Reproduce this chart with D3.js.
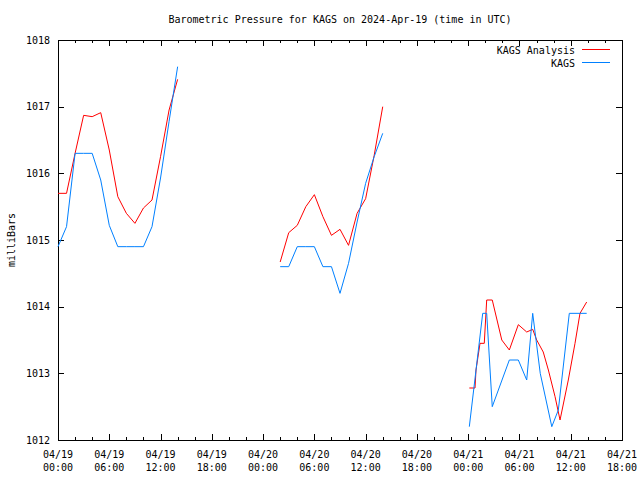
<!DOCTYPE html>
<html><head><meta charset="utf-8">
<script src="https://d3js.org/d3.v7.min.js"></script>
<style>body{margin:0;background:#fff}svg{display:block}text{font-family:"DejaVu Sans Mono",monospace;font-size:10px;fill:#000}</style>
</head><body>
<script>
const titleText = "Barometric Pressure for KAGS on 2024-Apr-19 (time in UTC)";
const yLabel = "milliBars";
const seriesNames = ["KAGS Analysis", "KAGS"];
const seriesColors = ["#ff0000", "#0080ff"];
const yTicks = [1012, 1013, 1014, 1015, 1016, 1017, 1018];
const xDomain = ["2024-04-19 00:00", "2024-04-21 18:00"];

// KAGS Analysis (red), segments
const analysisSeg1Times = ["2024-04-19 00:00","2024-04-19 01:00","2024-04-19 02:00","2024-04-19 03:00","2024-04-19 04:00","2024-04-19 05:00","2024-04-19 06:00","2024-04-19 07:00","2024-04-19 08:00","2024-04-19 09:00","2024-04-19 10:00","2024-04-19 11:00","2024-04-19 12:00","2024-04-19 13:00","2024-04-19 14:00"];
const analysisSeg1Values = [1015.7,1015.7,1016.3,1016.87,1016.85,1016.91,1016.35,1015.65,1015.4,1015.25,1015.48,1015.6,1016.25,1016.95,1017.41];
const analysisSeg2Times = ["2024-04-20 02:00","2024-04-20 03:00","2024-04-20 04:00","2024-04-20 05:00","2024-04-20 06:00","2024-04-20 07:00","2024-04-20 08:00","2024-04-20 09:00","2024-04-20 10:00","2024-04-20 11:00","2024-04-20 12:00","2024-04-20 13:00","2024-04-20 14:00"];
const analysisSeg2Values = [1014.67,1015.11,1015.22,1015.5,1015.68,1015.35,1015.07,1015.16,1014.92,1015.4,1015.62,1016.27,1017.0];
const analysisSeg3Times = ["2024-04-21 00:08","2024-04-21 00:48","2024-04-21 00:55","2024-04-21 01:23","2024-04-21 01:53","2024-04-21 02:10","2024-04-21 02:49","2024-04-21 03:56","2024-04-21 04:49","2024-04-21 05:52","2024-04-21 06:51","2024-04-21 07:33","2024-04-21 08:01","2024-04-21 08:47","2024-04-21 09:23","2024-04-21 10:10","2024-04-21 10:45","2024-04-21 11:43","2024-04-21 12:30","2024-04-21 13:05","2024-04-21 13:52"];
const analysisSeg3Values = [1012.78,1012.78,1013.05,1013.45,1013.45,1014.1,1014.1,1013.5,1013.35,1013.73,1013.62,1013.66,1013.5,1013.32,1013.05,1012.65,1012.3,1012.9,1013.45,1013.9,1014.07];

// KAGS observations (blue), segments
const obsSeg1Times = analysisSeg1Times;
const obsSeg1Values = [1014.9,1015.2,1016.3,1016.3,1016.3,1015.9,1015.22,1014.9,1014.9,1014.9,1014.9,1015.2,1015.93,1016.78,1017.6];
const obsSeg2Times = analysisSeg2Times;
const obsSeg2Values = [1014.6,1014.6,1014.9,1014.9,1014.9,1014.6,1014.6,1014.2,1014.65,1015.27,1015.85,1016.25,1016.6];
const obsSeg3Times = ["2024-04-21 00:08","2024-04-21 01:42","2024-04-21 02:10","2024-04-21 02:49","2024-04-21 04:49","2024-04-21 05:52","2024-04-21 06:51","2024-04-21 07:33","2024-04-21 08:26","2024-04-21 09:47","2024-04-21 10:33","2024-04-21 11:50","2024-04-21 13:52"];
const obsSeg3Values = [1012.2,1013.9,1013.9,1012.5,1013.2,1013.2,1012.9,1013.9,1013.0,1012.2,1012.45,1013.9,1013.9];

const parse = d3.utcParse("%Y-%m-%d %H:%M");
const W = 640, H = 480;
const L = 58, R = 622, T = 40, B = 440;

const svg = d3.select("body").append("svg").attr("width", W).attr("height", H);

const x = d3.scaleUtc().domain(xDomain.map(parse)).range([L, R]);
const y = d3.scaleLinear().domain([1012, 1018]).range([B, T]);

const g = svg.append("g").attr("shape-rendering", "crispEdges");

const majorTicks = d3.utcHour.every(6).range(x.domain()[0], new Date(+x.domain()[1] + 1));
const minorTicks = d3.utcHour.every(2).range(x.domain()[0], new Date(+x.domain()[1] + 1)).filter(d => d.getUTCHours() % 6 !== 0);

// bottom axis
const xb = d3.axisBottom(x).tickValues(majorTicks).tickSize(-6).tickFormat("");
g.append("g").attr("transform", `translate(0,${B})`).call(xb);
g.append("g").attr("transform", `translate(0,${B})`).call(d3.axisBottom(x).tickValues(minorTicks).tickSize(-3).tickFormat(""));
// top axis
g.append("g").attr("transform", `translate(0,${T})`).call(d3.axisTop(x).tickValues(majorTicks).tickSize(-6).tickFormat(""));
g.append("g").attr("transform", `translate(0,${T})`).call(d3.axisTop(x).tickValues(minorTicks).tickSize(-3).tickFormat(""));
// left / right axes
g.append("g").attr("transform", `translate(${L},0)`).call(d3.axisLeft(y).tickValues(yTicks).tickSize(-6).tickFormat(""));
g.append("g").attr("transform", `translate(${R},0)`).call(d3.axisRight(y).tickValues(yTicks).tickSize(-6).tickFormat(""));
g.selectAll(".domain").remove();
g.selectAll(".tick line").attr("stroke", "#000");
g.append("rect").attr("x", L).attr("y", T).attr("width", R - L).attr("height", B - T)
  .attr("fill", "none").attr("stroke", "#000");

// tick labels
svg.append("g").selectAll("text").data(yTicks).join("text")
  .attr("x", 50).attr("y", d => y(d)).attr("dy", "0.35em").attr("text-anchor", "end").text(d => d);
const fmtDate = d3.utcFormat("%m/%d"), fmtTime = d3.utcFormat("%H:%M");
const xl = svg.append("g").selectAll("g").data(majorTicks).join("g");
xl.append("text").attr("x", d => x(d)).attr("y", 458).attr("text-anchor", "middle").text(fmtDate);
xl.append("text").attr("x", d => x(d)).attr("y", 471).attr("text-anchor", "middle").text(fmtTime);

// title & y label
svg.append("text").attr("x", (L + R) / 2).attr("y", 23).attr("text-anchor", "middle").text(titleText);
svg.append("text").attr("transform", `translate(15,${(T + B) / 2}) rotate(-90)`).attr("text-anchor", "middle").text(yLabel);

// lines
const line = d3.line().x(d => x(d[0])).y(d => y(d[1]));
const mk = (ts, vs) => ts.map((t, i) => [parse(t), vs[i]]);
const analysis = [mk(analysisSeg1Times, analysisSeg1Values), mk(analysisSeg2Times, analysisSeg2Values), mk(analysisSeg3Times, analysisSeg3Values)];
const obs = [mk(obsSeg1Times, obsSeg1Values), mk(obsSeg2Times, obsSeg2Values), mk(obsSeg3Times, obsSeg3Values)];
[analysis, obs].forEach((segs, i) => {
  svg.append("g").selectAll("path").data(segs).join("path")
    .attr("d", line).attr("fill", "none").attr("stroke", seriesColors[i]).attr("stroke-width", 1);
});

// legend
const leg = svg.append("g").selectAll("g").data(seriesNames).join("g");
leg.append("text").attr("x", 575).attr("y", (d, i) => 50 + i * 13).attr("dy", "0.35em").attr("text-anchor", "end").text(d => d);
leg.append("line").attr("x1", 582).attr("x2", 610).attr("y1", (d, i) => 49.5 + i * 13).attr("y2", (d, i) => 49.5 + i * 13)
  .attr("stroke", (d, i) => seriesColors[i]).attr("shape-rendering", "crispEdges");
</script>
</body></html>
